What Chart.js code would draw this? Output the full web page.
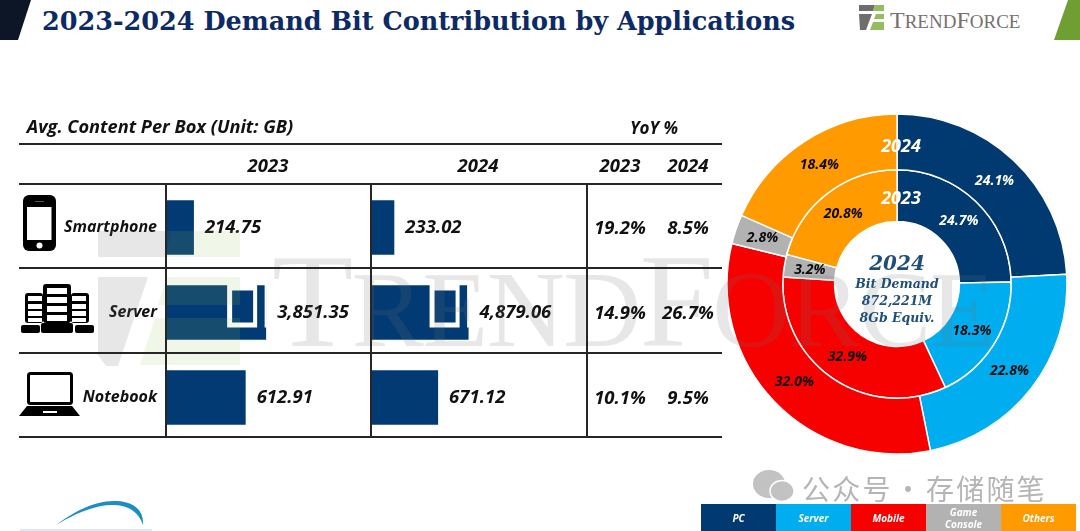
<!DOCTYPE html>
<html>
<head>
<meta charset="utf-8">
<title>2023-2024 Demand Bit Contribution by Applications</title>
<script src="https://cdn.jsdelivr.net/npm/chart.js@4"></script>
<style>
    html, body { margin: 0; padding: 0; background: #fff; }
    #page { position: relative; width: 1080px; height: 531px; overflow: hidden; font-family: "Open Sans", sans-serif; }
    #page > * { position: absolute; }
    canvas { display: block; }
    .line { background: #262626; }
    .cell { font-weight: 700; font-style: italic; font-size: 18.5px; color: #111; transform: translate(-50%, -50%); white-space: nowrap; }
    .serif { font-family: "DejaVu Serif", serif; font-weight: 700; font-style: italic; color: #1f4e79; transform: translate(-50%, -50%); white-space: nowrap; }
    #title { left: 42px; top: 6px; font-family: "DejaVu Serif", serif; font-weight: 700; font-size: 25.500px; color: #0b2a66; white-space: nowrap; }
    #legend { left: 701px; top: 504px; width: 375px; height: 27px; display: flex; }
    #legend div { width: 75px; box-sizing: border-box; padding: 0 14px; display: flex; align-items: center; justify-content: center; text-align: center; color: #fff; font-weight: 700; font-style: italic; font-size: 10px; line-height: 12px; }
    #mark { left: 272px; top: 221px; font-family: "Liberation Serif", serif; font-size: 108px; line-height: 160px; color: rgba(110, 110, 110, 0.17); white-space: nowrap; letter-spacing: -1.5px; pointer-events: none; }
    #mark b { font-weight: 400; font-size: 133px; }
    #brand { left: 890px; top: 2px; font-family: "Liberation Serif", serif; font-size: 19px; line-height: 36px; color: #77716f; white-space: nowrap; }
    #brand b { font-weight: 400; font-size: 24px; }
    .wechat { font-family: "Noto Sans CJK SC", sans-serif; font-size: 28px; line-height: 40px; color: #b5b5b5; white-space: nowrap; letter-spacing: 2.2px; }
</style>
</head>
<body>
<div id="page">
    <svg style="left:0;top:0" width="1080" height="531" viewBox="0 0 1080 531">
        <polygon points="0,0 31,0 18,40 0,40" fill="#0d1626"/>
        <polygon points="1068,0 1080,0 1080,40 1054,40" fill="#6f9f33"/>
        <!-- small logo -->
        <polygon points="859,5 875,5 873,11 859,11" fill="#6f6c6c"/>
        <polygon points="875,5 884,5 884,11 873,11" fill="#95bd5f"/>
        <polygon points="859,14 872,14 866,30 860,30" fill="#6f6c6c"/>
        <polygon points="876,14 884,14 884,19 874,19" fill="#95bd5f"/>
        <polygon points="873,22 884,22 884,30 870,30" fill="#95bd5f"/>
        <!-- bottom left swoosh -->
        <path d="M56,525 C80,507 100,500 117,501 C135,502 144,511 143,525 C139,513 130,506 115,505 C98,504 78,512 56,525 Z" fill="#1b8ec8"/>
        <rect x="20" y="529" width="132" height="2" fill="#d7ecf7"/>
        <!-- phone -->
        <rect x="23" y="195" width="33" height="56" rx="6" fill="#000"/>
        <rect x="27" y="207" width="24.500" height="33" fill="#fff"/>
        <circle cx="39.500" cy="245.500" r="3" fill="#fff"/>
        <rect x="35" y="201" width="9" height="1" fill="#555"/>
        <!-- server -->
        <g fill="#000">
            <rect x="43" y="284" width="28" height="39" rx="3"/>
            <rect x="25" y="293" width="18" height="30" rx="3"/>
            <rect x="71" y="293" width="18" height="30" rx="3"/>
            <rect x="21" y="325" width="19" height="8" rx="2"/>
            <rect x="41" y="323" width="32" height="10" rx="2"/>
            <rect x="75" y="325" width="19" height="8" rx="2"/>
        </g>
        <g fill="#fff">
            <rect x="47" y="288" width="20" height="6"/><rect x="47" y="297" width="20" height="6"/><rect x="47" y="306" width="20" height="6"/><rect x="47" y="315" width="20" height="6"/>
            <rect x="28" y="296" width="14" height="5"/><rect x="28" y="304" width="14" height="5"/><rect x="28" y="311" width="14" height="5"/><rect x="28" y="318" width="14" height="4"/>
            <rect x="72" y="296" width="14" height="5"/><rect x="72" y="304" width="14" height="5"/><rect x="72" y="311" width="14" height="5"/><rect x="72" y="318" width="14" height="4"/>
        </g>
        <!-- notebook -->
        <rect x="28.500" y="373.500" width="43" height="30" rx="2" fill="none" stroke="#000" stroke-width="3"/>
        <polygon points="27,406 72,406 80,416 19,416" fill="#000"/>
        <rect x="43" y="411" width="14" height="2" fill="#fff"/>
        <!-- wechat bubbles -->
        <ellipse cx="769" cy="484" rx="16" ry="14" fill="#c2c2c2"/>
        <ellipse cx="782" cy="491" rx="12" ry="10.500" fill="#c2c2c2" stroke="#fff" stroke-width="1.500"/>
    </svg>

    <div id="title">2023-2024 Demand Bit Contribution by Applications</div>
    <div id="brand"><b>T</b>REND<b>F</b>ORCE</div>

    <canvas id="bars2023" width="371" height="255" style="left:0;top:185px"></canvas>
    <canvas id="bars2024" width="216" height="255" style="left:371px;top:185px"></canvas>
    <canvas id="rings" width="350" height="350" style="left:722px;top:109px"></canvas>

    <div id="mark"><b>T</b>REND<b>F</b>ORCE</div>
    <svg style="left:0;top:0;pointer-events:none" width="1080" height="531" viewBox="0 0 1080 531">
        <g fill="rgba(110,110,110,0.17)">
            <polygon points="98,231 171,231 165,257 98,257"/>
            <polygon points="98,277 148,277 118,366 106,366 98,355"/>
        </g>
        <g fill="rgba(149,189,95,0.14)">
            <polygon points="171,231 240,231 240,257 165,257"/>
            <polygon points="167,277 240,277 240,305 158,305"/>
            <polygon points="155,318 240,318 240,365 140,365"/>
        </g>
    </svg>

    <div class="wechat" style="left:802px;top:468px">公众号</div>
    <div class="wechat" style="left:894px;top:468px">·</div>
    <div class="wechat" style="left:926px;top:468px">存储随笔</div>

    <div id="legend"></div>
</div>

<script>
// Chart data
const categories = ['Smartphone', 'Server', 'Notebook'];
const content2023 = [214.75, 3851.35, 612.91];
const content2024 = [233.02, 4879.06, 671.12];
const yoy2023 = ['19.2%', '14.9%', '10.1%'];
const yoy2024 = ['8.5%', '26.7%', '9.5%'];

const applications = ['PC', 'Server', 'Mobile', 'Game Console', 'Others'];
const share2023 = [24.7, 18.3, 32.9, 3.2, 20.8];
const share2024 = [24.1, 22.8, 32.0, 2.8, 18.4];
const appColors = ['#003a70', '#00aeef', '#f70000', '#b2b2b2', '#ff9a00'];
const ringLabelColors = ['#fff', '#0a0a0a', '#0a0a0a', '#0a0a0a', '#0a0a0a'];

const tableTitle = 'Avg. Content Per Box (Unit: GB)';
const centerLines = ['2024', 'Bit Demand', '872,221M', '8Gb Equiv.'];

// Server bars run past the table, so above this value the axis is broken
const AXIS_BREAK = 2000;
const BREAK_FACTOR = 5;
const withBreak = values => values.map(v => (v > AXIS_BREAK ? v / BREAK_FACTOR : v));

const page = document.getElementById('page');

function addLine(x, y, w, h) {
    const el = document.createElement('div');
    el.className = 'line';
    el.style.cssText = `left:${x}px;top:${y}px;width:${w}px;height:${h}px`;
    page.appendChild(el);
}

function addCell(text, x, y, cls = 'cell', size = null, color = null) {
    const el = document.createElement('div');
    el.className = cls;
    el.textContent = text;
    el.style.left = x + 'px';
    el.style.top = y + 'px';
    if (size) el.style.fontSize = size + 'px';
    if (color) el.style.color = color;
    page.appendChild(el);
}

// Table rules
[144, 184, 268, 353, 437].forEach(y => addLine(19, y - 1, 703, 2));
[165.5, 371, 587].forEach(x => addLine(x - 1, 184, 2, 253));

addCell(tableTitle, 160, 126, 'cell', 18.2);
addCell('YoY %', 654, 127, 'cell', 17);
addCell('2023', 268, 164);
addCell('2024', 478, 164);
addCell('2023', 620, 164);
addCell('2024', 688, 164);
[226, 311, 396].forEach((y, i) => {
    addCell(yoy2023[i], 620, y);
    addCell(yoy2024[i], 688, y);
});

// Legend under the rings
const legend = document.getElementById('legend');
applications.forEach((name, i) => {
    const box = document.createElement('div');
    box.textContent = name;
    box.style.background = appColors[i];
    legend.appendChild(box);
});

// Writes the value right of each bar and cuts the break mark into the server bar
const barDecor = {
    id: 'barDecor',
    afterDatasetsDraw(chart, args, opts) {
        const ctx = chart.ctx;
        const bars = chart.getDatasetMeta(0).data;
        ctx.save();
        bars.forEach((bar, i) => {
            if (opts.values[i] > AXIS_BREAK) {
                ctx.fillStyle = '#fff';
                ctx.fillRect(bar.x - 39, bar.y - 28, 30, 43);
                ctx.fillRect(bar.x - 1.5, bar.y - 28, 2, 43);
                ctx.fillStyle = '#023b73';
                ctx.fillRect(bar.x - 34, bar.y - 22, 21, 32);
            }
            const label = opts.values[i].toLocaleString('en-US', { minimumFractionDigits: 2 });
            ctx.fillStyle = '#111';
            ctx.font = 'italic 700 18.5px "Open Sans"';
            ctx.textBaseline = 'middle';
            ctx.fillText(label, bar.x + opts.gap, bar.y);
        });
        ctx.restore();
    }
};

function barChart(id, values, xMax, showLabels) {
    return new Chart(document.getElementById(id), {
        type: 'bar',
        data: {
            labels: categories,
            datasets: [{
                data: withBreak(values),
                backgroundColor: '#023b73',
                barPercentage: 0.64,
                categoryPercentage: 1
            }]
        },
        options: {
            indexAxis: 'y',
            responsive: false,
            animation: false,
            layout: { padding: 0 },
            plugins: {
                legend: { display: false },
                tooltip: { enabled: false },
                barDecor: { values: values, gap: 11 }
            },
            scales: {
                x: { display: false, min: 0, max: xMax },
                y: {
                    display: showLabels,
                    grid: { display: false, drawTicks: false },
                    border: { display: false },
                    afterFit: scale => {
                        scale.width = showLabels ? 166 : 0;
                        // keep the rows at full height, labels sit well inside them
                        scale.paddingTop = 0;
                        scale.paddingBottom = 0;
                    },
                    ticks: {
                        padding: 9,
                        color: '#111',
                        font: { family: '"Open Sans"', size: 16, weight: '700', style: 'italic' }
                    }
                }
            }
        },
        plugins: [barDecor]
    });
}

barChart('bars2023', content2023, 1577, true);
barChart('bars2024', content2024, 2160, false);

// Percent labels on the ring slices
const ringLabels = {
    id: 'ringLabels',
    afterDatasetsDraw(chart) {
        const ctx = chart.ctx;
        ctx.save();
        ctx.textAlign = 'center';
        ctx.textBaseline = 'middle';
        ctx.font = 'italic 700 14px "Open Sans"';
        chart.data.datasets.forEach((dataset, d) => {
            chart.getDatasetMeta(d).data.forEach((arc, i) => {
                const c = arc.getCenterPoint();
                ctx.fillStyle = ringLabelColors[i];
                ctx.fillText(dataset.data[i].toFixed(1) + '%', c.x, c.y);
            });
        });
        ctx.restore();
    }
};

new Chart(document.getElementById('rings'), {
    type: 'doughnut',
    data: {
        labels: applications,
        datasets: [
            { data: share2024, backgroundColor: appColors, borderColor: '#fff', borderWidth: 1.5, weight: 55 },
            { data: share2023, backgroundColor: appColors, borderColor: '#fff', borderWidth: 1.5, weight: 51 }
        ]
    },
    options: {
        responsive: false,
        animation: false,
        radius: 170,
        cutout: 64,
        layout: { padding: 0 },
        plugins: { legend: { display: false }, tooltip: { enabled: false } }
    },
    plugins: [ringLabels]
});

addCell('2024', 901, 145, 'cell', 18, '#fff');
addCell('2023', 901, 197, 'cell', 18, '#fff');
addCell(centerLines[0], 897, 263, 'serif', 20);
addCell(centerLines[1], 897, 283, 'serif', 12.5);
addCell(centerLines[2], 897, 300, 'serif', 12.5);
addCell(centerLines[3], 897, 317, 'serif', 12.5);
</script>
</body>
</html>
